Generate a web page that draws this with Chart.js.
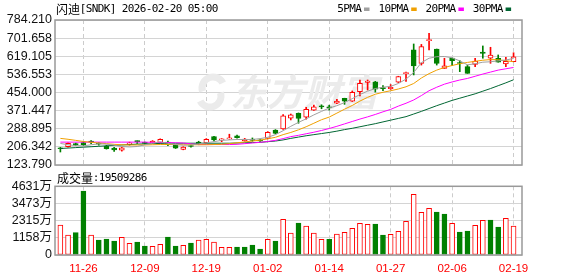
<!DOCTYPE html>
<html>
<head>
<meta charset="utf-8">
<script src="https://cdn.jsdelivr.net/npm/chart.js@4.4.1/dist/chart.umd.min.js"></script>
<style>
  html, body { margin: 0; padding: 0; background: #fff; }
  #wrap { position: relative; width: 578px; height: 276px; overflow: hidden; }
  #price { position: absolute; left: 0; top: 0; }
  #vol { position: absolute; left: 0; top: 165px; }
</style>
</head>
<body>
<div id="wrap">
  <canvas id="price" width="578" height="176"></canvas>
  <canvas id="vol" width="578" height="111"></canvas>
</div>
<script>
// trading days shown on the chart
const dates = [
  '11-21','11-24','11-25','11-26','11-28','12-01','12-02','12-03','12-04','12-05',
  '12-08','12-09','12-10','12-11','12-12','12-15','12-16','12-17','12-18','12-19',
  '12-22','12-23','12-24','12-26','12-29','12-30','12-31','01-02','01-05','01-06',
  '01-07','01-08','01-09','01-12','01-13','01-14','01-15','01-16','01-20','01-21',
  '01-22','01-23','01-26','01-27','01-28','01-29','01-30','02-02','02-03','02-04',
  '02-05','02-06','02-09','02-10','02-11','02-12','02-13','02-17','02-18','02-19'
]
const tickDates = ['11-26','12-09','12-19','01-02','01-14','01-27','02-06','02-19']

const open  = [202,207,221,226,230,222,210,201,191,217, 233,226,223,226,228,213,195,212,228,226,
               253,238,243,257,235,242,238,245,283,288, 337,359,342,374,393,386,405,427,415,458,
               500,503,476,471,501,540,648,587,690,652, 564,611,590,572,582,638,610,610,584,594]
const high  = [204,225,224,229,235,226,214,204,204,228, 234,228,235,243,233,215,207,216,232,244,
               254,244,264,260,245,247,240,276,285,354, 356,361,387,397,398,396,423,428,461,511,
               511,505,485,490,528,547,675,673,724,652, 610,611,599,579,610,666,660,625,614,635]
const low   = [183,205,212,212,221,214,196,186,187,214, 222,218,221,224,212,199,193,205,216,224,
               232,230,241,246,232,232,231,243,265,286, 329,314,332,372,380,374,403,400,413,438,
               465,456,462,468,499,505,534,579,648,579, 564,576,549,541,572,610,587,592,572,594]
const close = [198,222,215,216,228,219,198,192,202,225, 230,222,233,241,216,201,205,208,218,241,
               238,243,247,248,242,236,233,273,268,348, 352,336,377,389,388,384,415,415,455,496,
               506,469,472,478,526,545,575,663,695,587, 576,599,586,541,597,632,625,592,596,617]

// volume in 万 shares, and its colour (1 = red, 0 = green)
const volume = [2022,1348,1505,4314,1348,1011,1078,944,1191,786, 876,607,584,719,1213,607,652,809,1011,1056,
                876,517,517,539,539,674,404,1056,944,2404, 1483,2157,1943,1483,1056,1056,1416,1528,1798,2135,
                2067,2090,1348,1393,1595,2269,4090,2876,3146,2899, 2764,2135,1550,1618,2000,2337,2359,1887,2472,1951]
const volRise = [1,1,0,0,1,0,0,0,1,1, 0,0,1,1,0,0,1,0,1,1, 1,1,1,0,0,0,0,1,0,1,
                 1,0,1,1,1,0,1,1,1,1, 1,0,0,1,1,1,1,1,1,0, 0,1,0,0,1,1,0,0,1,1]
const lastVolume = '19509286'

const ma5  = [222,216,212,211,216,220,219,214,208,206, 208,216,222,230,222,217,214,215,220,225,
              230,236,238,240,240,240,244,250,262,280, 300,318,334,352,368,383,394,408,426,445,
              460,472,478,482,495,515,545,590,610,617, 618,612,598,580,585,592,594,598,602,609]
const ma10 = [245,241,236,231,227,224,221,218,216,215, 215,215,216,217,217,217,216,216,216,216,
              217,218,221,225,229,233,237,243,250,262, 272,284,298,314,330,342,360,378,395,415,
              432,446,455,462,470,480,495,520,540,556, 568,577,585,591,596,601,604,603,599,594]
const ma20 = [228,228,228,228,228,228,228,228,228,228, 228,228,227,226,226,225,224,220,217,217,
              217,217,217,218,221,224,227,231,236,244, 253,259,266,273,281,290,300,311,322,333,
              343,354,366,377,392,405,420,440,462,478, 492,502,511,518,528,538,547,556,562,568]
const ma30 = [199,201,203,205,207,209,211,213,215,217, 219,220,221,222,223,223,223,223,223,223,
              223,223,223,224,225,226,227,230,233,238, 245,251,257,262,267,272,278,285,291,298,
              305,312,320,328,336,344,356,368,381,394, 406,418,428,438,448,460,472,485,498,512]

const maNames  = ['5PMA','10PMA','20PMA','30PMA']
const maColors = ['#a0a0a0','#f0a000','#ff00ff','#006633']

const priceTicks = ['123.790','206.342','288.895','371.447','454.000','536.553','619.105','701.658','784.210']
const volTicks = ['0','1158','2315','3473','4631']

const RED = '#ff0000'
const GREEN = '#008000'
const up = close.map((c, i) => c > open[i])

Chart.defaults.font.family = '"Liberation Sans", "Noto Sans CJK SC", sans-serif'
Chart.defaults.animation = false

// ascii 6px, cjk 12px, like a bitmap song font
const drawMixed = (ctx, str, x, y) => {
  ctx.textAlign = 'left'
  ctx.textBaseline = 'middle'
  for (const ch of str) {
    if (/[\u3000-\u9fff]/.test(ch)) {
      ctx.font = '12px "Noto Sans CJK SC"'
      ctx.fillText(ch, x, y)
      x += 12
    } else {
      ctx.font = '11px "DejaVu Sans Mono"'
      ctx.fillText(ch, x - 0.3, y)
      x += 6
    }
  }
  return x
}

const framePlugin = {
  id: 'frame',
  afterDraw(chart) {
    const { ctx, chartArea: a } = chart
    ctx.save()
    ctx.strokeStyle = '#999'
    ctx.lineWidth = 1.5
    ctx.strokeRect(a.left, a.top, a.right - a.left, a.bottom - a.top)
    ctx.restore()
  }
}

const headerPlugin = {
  id: 'header',
  afterDraw(chart) {
    const ctx = chart.ctx
    ctx.save()
    ctx.fillStyle = '#000'
    drawMixed(ctx, '闪迪[SNDK] 2026-02-20 05:00', 56, 9.5)
    let x = 337.5
    maNames.forEach((name, i) => {
      ctx.fillStyle = '#000'
      x = drawMixed(ctx, name, x, 9.5) + 2.5
      ctx.fillStyle = maColors[i]
      ctx.fillRect(x, 7.5, 5.5, 3.5)
      x += 5.5 + 9.2
    })
    ctx.restore()
  }
}

const watermarkPlugin = {
  id: 'watermark',
  beforeDatasetsDraw(chart) {
    const ctx = chart.ctx
    ctx.save()
    ctx.fillStyle = '#ebebeb'
    ctx.strokeStyle = '#ebebeb'
    ctx.font = 'italic bold 37px "Noto Sans CJK SC"'
    ctx.textAlign = 'left'
    ctx.textBaseline = 'middle'
    ctx.fillText('东方财富', 230, 92)
    // rough swirl logo
    ctx.lineWidth = 7
    ctx.beginPath()
    ctx.arc(213, 88, 11, Math.PI * 0.9, Math.PI * 1.85)
    ctx.stroke()
    ctx.beginPath()
    ctx.arc(210, 96, 11, Math.PI * -0.1, Math.PI * 0.85)
    ctx.stroke()
    ctx.restore()
  }
}

const volLabelPlugin = {
  id: 'volLabel',
  afterDraw(chart) {
    const ctx = chart.ctx
    ctx.save()
    ctx.fillStyle = '#000'
    drawMixed(ctx, '成交量:' + lastVolume, 57, 13.6)
    ctx.restore()
  }
}

const xScale = (showLabels) => ({
  type: 'linear',
  min: -0.7,
  max: 60.1,
  offset: false,
  afterBuildTicks: s => { s.ticks = tickDates.map(d => ({ value: dates.indexOf(d) })) },
  afterFit: s => { s.height = showLabels ? 21 : 0 },
  grid: { color: '#cccccc', drawTicks: false, offset: false },
  border: { display: false, dash: [4, 3] },
  ticks: {
    display: showLabels,
    autoSkip: false,
    maxRotation: 0,
    padding: 7,
    color: RED,
    font: { size: 11.5 },
    callback: v => dates[v]
  }
})

const yTicks = (labels) => ({
  autoSkip: false,
  padding: 3,
  color: '#111',
  font: { size: 12.5 },
  callback: (v, i) => labels[i]
})

new Chart(document.getElementById('price'), {
  type: 'bar',
  data: {
    datasets: [
      ...[ma5, ma10, ma20, ma30].map((ma, k) => ({
        type: 'line',
        label: maNames[k],
        data: ma.map((v, i) => ({ x: i, y: v })),
        borderColor: maColors[k],
        borderWidth: 1,
        pointRadius: 0,
        tension: 0,
        order: 0
      })),
      {
        label: 'body',
        data: open.map((o, i) => ({ x: i, y: [o, close[i]] })),
        backgroundColor: up.map(u => u ? '#ffffff' : GREEN),
        borderColor: up.map(u => u ? RED : GREEN),
        borderWidth: 1,
        borderSkipped: false,
        barThickness: 5,
        minBarLength: 1,
        grouped: false,
        order: 1
      },
      {
        label: 'wick',
        data: low.map((l, i) => ({ x: i, y: [l, high[i]] })),
        backgroundColor: up.map(u => u ? RED : GREEN),
        barThickness: 1,
        grouped: false,
        order: 2
      }
    ]
  },
  options: {
    responsive: false,
    events: [],
    layout: { padding: { top: 20, right: 56, bottom: 11, left: 0 } },
    plugins: { legend: { display: false }, tooltip: { enabled: false } },
    scales: {
      x: xScale(false),
      y: {
        min: 123.79,
        max: 784.21,
        afterBuildTicks: s => { s.ticks = priceTicks.map(t => ({ value: parseFloat(t) })) },
        afterFit: s => { s.width = 55 },
        grid: { color: '#d4d4d4', drawTicks: false },
        border: { display: false },
        ticks: yTicks(priceTicks)
      }
    }
  },
  plugins: [watermarkPlugin, framePlugin, headerPlugin]
})

const volTickLabels = volTicks.map((t, i) => i === 0 ? t : t + '万')

new Chart(document.getElementById('vol'), {
  type: 'bar',
  data: {
    datasets: [{
      label: 'volume',
      data: volume.map((v, i) => ({ x: i, y: v })),
      backgroundColor: volRise.map(r => r ? '#ffffff' : GREEN),
      borderColor: volRise.map(r => r ? RED : GREEN),
      borderWidth: 1,
      borderSkipped: false,
      barThickness: 5,
      grouped: false
    }]
  },
  options: {
    responsive: false,
    events: [],
    layout: { padding: { top: 21.3, right: 56, bottom: 0, left: 0 } },
    plugins: { legend: { display: false }, tooltip: { enabled: false } },
    scales: {
      x: xScale(true),
      y: {
        min: 0,
        max: parseFloat(volTicks[volTicks.length - 1]),
        afterBuildTicks: s => { s.ticks = volTicks.map(t => ({ value: parseFloat(t) })) },
        afterFit: s => { s.width = 55 },
        grid: { color: '#d4d4d4', drawTicks: false },
        border: { display: false },
        ticks: yTicks(volTickLabels)
      }
    }
  },
  plugins: [framePlugin, volLabelPlugin]
})
</script>
</body>
</html>
